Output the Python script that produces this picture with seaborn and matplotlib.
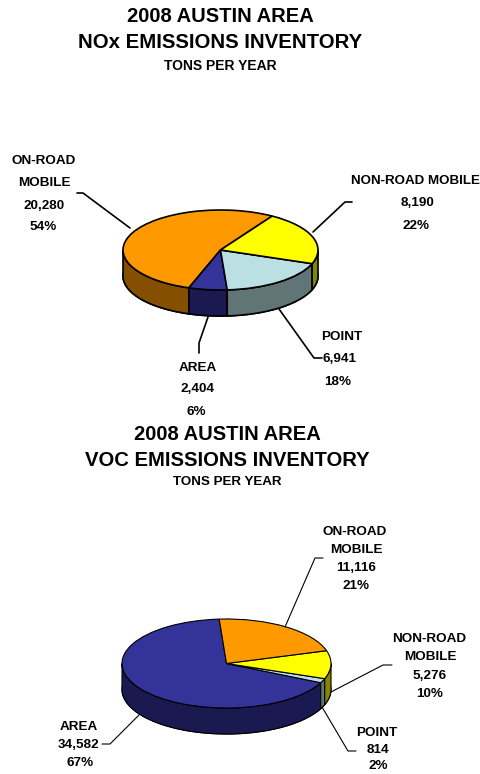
import numpy as np
import matplotlib
matplotlib.use("Agg")
import matplotlib.pyplot as plt
import seaborn as sns

# ---------------------- DATA ----------------------
nox_names = ['ON-ROAD MOBILE', 'AREA', 'POINT', 'NON-ROAD MOBILE']
nox_values = [20280, 2404, 6941, 8190]
nox_colors = ['#FF9900', '#333399', '#BBE0E3', '#FFFF00']
nox_sides = ['#845000', '#1A1A50', '#617577', '#858500']

voc_names = ['AREA', 'POINT', 'NON-ROAD MOBILE', 'ON-ROAD MOBILE']
voc_values = [34582, 814, 5276, 11116]
voc_colors = ['#333399', '#BBE0E3', '#FFFF00', '#FF9900']
voc_sides = ['#1A1A50', '#617577', '#858500', '#845000']

W, H = 481, 774
sns.set_theme(style='white')
plt.rcParams['font.family'] = ['Liberation Sans', 'DejaVu Sans']

fig = plt.figure(figsize=(W / 100, H / 100), dpi=100)


def draw_pie(values, colors, sides, start, cx, cy, rx, ry, depth, lw):
    ax = fig.add_axes([(cx - rx) / W, 1 - (cy + ry + depth) / H,
                       2 * rx / W, (2 * ry + depth) / H])
    d = depth / ry
    # floor of the disc, then the walls, then the top face
    ax.pie(values, colors=sns.color_palette(sides), startangle=start, center=(0, -d),
           wedgeprops=dict(edgecolor='black', linewidth=lw))
    angles = start + np.cumsum([0] + list(values)) / sum(values) * 360
    for i, side in enumerate(sides):
        for turn in [0, 360]:
            lo = max(angles[i] - turn, 180)
            hi = min(angles[i + 1] - turn, 360)
            if hi <= lo:
                continue
            t = np.radians(np.linspace(lo, hi, 80))
            x = np.cos(t)
            y = np.sin(t)
            ax.fill(np.r_[x, x[::-1]], np.r_[y, y[::-1] - d], facecolor=side,
                    edgecolor='black', linewidth=lw, clip_on=False)
    ax.pie(values, colors=sns.color_palette(colors), startangle=start,
           wedgeprops=dict(edgecolor='black', linewidth=lw))
    ax.set_aspect('auto')
    ax.set_xlim(-1, 1)
    ax.set_ylim(-1 - d, 1)
    ax.axis('off')
    for p in ax.patches:
        p.set_clip_on(False)


draw_pie(nox_values, nox_colors, nox_sides, 58, 220.5, 250, 97.5, 40, 26, 1.2)
draw_pie(voc_values, voc_colors, voc_sides, 94, 226.5, 663.5, 104.5, 44.5, 26, 0.8)

# overlay in pixel coordinates for titles, labels and leader lines
ov = fig.add_axes([0, 0, 1, 1])
ov.set_xlim(0, W)
ov.set_ylim(H, 0)
ov.axis('off')


def label(x, y, s, size=9.7):
    ov.text(x, y + 1, s, ha='center', va='center', fontsize=size, fontweight='bold', color='black')


# ---------------------- TITLES ----------------------
label(220.5, 16, '2008 AUSTIN AREA', 14.5)
label(220.5, 41, 'NOx EMISSIONS INVENTORY', 14.7)
label(220.5, 65, 'TONS PER YEAR', 10)
label(227, 434, '2008 AUSTIN AREA', 14.5)
label(227.5, 460, 'VOC EMISSIONS INVENTORY', 14.6)
label(227, 481, 'TONS PER YEAR', 9.6)

# ---------------------- SLICE LABELS ----------------------
label(44, 160, 'ON-ROAD')
label(44, 182, 'MOBILE')
label(44, 205, f'{nox_values[0]:,}')
label(43, 226, '54%')
label(415, 180, 'NON-ROAD MOBILE', 9.6)
label(418, 202, f'{nox_values[3]:,}')
label(416, 225, '22%')
label(342, 336, 'POINT')
label(340, 358, f'{nox_values[2]:,}')
label(338, 381, '18%')
label(198, 367, 'AREA')
label(198, 388, f'{nox_values[1]:,}')
label(196, 411, '6%')

label(355, 531, 'ON-ROAD')
label(356, 549, 'MOBILE')
label(356, 567, f'{voc_values[3]:,}')
label(356, 585, '21%')
label(429, 638, 'NON-ROAD')
label(430, 656, 'MOBILE')
label(430, 675, f'{voc_values[2]:,}')
label(430, 693, '10%')
label(377, 732, 'POINT')
label(378, 749, f'{voc_values[1]:,}')
label(378, 765, '2%')
label(79, 726, 'AREA')
label(79, 744, f'{voc_values[0]:,}')
label(80, 762, '67%')

# ---------------------- LEADER LINES ----------------------
leaders = [
    ([77, 83, 130], [193, 193, 228], 1.2),
    ([352, 345, 313], [202, 202, 232], 1.2),
    ([279, 314, 322], [309, 358, 358], 1.2),
    ([208, 199, 199], [317, 343, 353], 1.2),
    ([323, 315, 285], [558, 558, 627], 0.8),
    ([392, 383, 331], [665, 665, 692], 0.8),
    ([322, 348, 356], [707, 751, 751], 0.8),
    ([139, 110, 102], [715, 744, 744], 0.8),
]
for xs, ys, lw in leaders:
    ov.plot(xs, ys, color='black', linewidth=lw)

fig.savefig('out.png', dpi=100)
